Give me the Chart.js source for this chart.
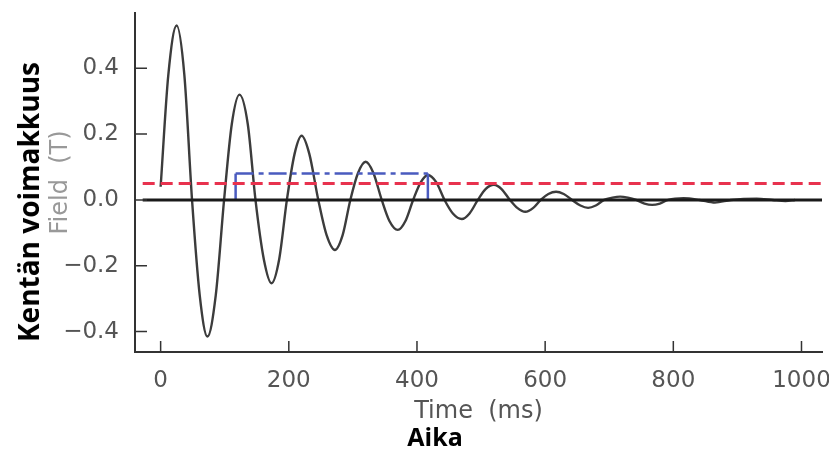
<!DOCTYPE html>
<html>
<head>
<meta charset="utf-8">
<script src="https://cdn.jsdelivr.net/npm/chart.js@4/dist/chart.umd.min.js"></script>
<style>
  body { margin: 0; background: #fff; }
  #wrap { position: relative; width: 829px; height: 453px; }
  .big { position: absolute; font-family: "Open Sans", sans-serif; font-weight: bold; color: #000; white-space: nowrap; line-height: 1; }
  #ylab { left: 28px; top: 202px; font-size: 28px; transform: translate(-50%, -50%) rotate(-90deg); }
  #xlab { left: 435px; top: 436px; font-size: 25px; transform: translate(-50%, -50%); }
</style>
</head>
<body>
<div id="wrap">
  <canvas id="chart" width="829" height="453"></canvas>
  <div class="big" id="ylab">Kentän voimakkuus</div>
  <div class="big" id="xlab">Aika</div>
</div>
<script>
/*************** Data **************************************/

// damped field signal, time in ms
var timeMs = [0, 12, 25, 37, 49, 61, 73, 86, 99, 111, 123, 136, 148, 161, 173, 185, 197,
    209, 220, 232, 246, 259, 272, 284, 296, 308, 320, 332, 345, 357, 370, 382, 394,
    406, 417, 430, 443, 456, 470, 482, 495, 507, 520, 532, 545, 557, 569, 581, 593,
    605, 617, 629, 642, 655, 667, 679, 692, 705, 717, 729, 742, 755, 767, 779, 792,
    816, 841, 865, 890, 930, 955, 975, 990];
var fieldT = [0.04, 0.38, 0.53, 0.38, 0.0, -0.29, -0.415, -0.29, 0.0, 0.23, 0.32, 0.23, 0.0, -0.18, -0.253, -0.18, 0.0,
    0.14, 0.195, 0.14, 0.0, -0.107, -0.152, -0.107, 0.0, 0.082, 0.116, 0.082, 0.0, -0.064, -0.091, -0.064, 0.0,
    0.054, 0.076, 0.054, 0.0, -0.041, -0.058, -0.041, 0.0, 0.033, 0.046, 0.033, 0.0, -0.025, -0.036, -0.025, 0.0,
    0.018, 0.025, 0.018, 0.0, -0.017, -0.024, -0.017, 0.0, 0.007, 0.01, 0.007, 0.0, -0.011, -0.015, -0.011, 0.0,
    0.005, 0.0, -0.008, 0.0, 0.004, 0.0, -0.003, 0.0];

// red threshold and zero line
var lineSpanMs = [-28, 1032];
var thresholdLevel = [0.05, 0.05];
var zeroLevel = [0, 0];

// blue window
var windowMs = [117, 117, 417, 417];
var windowLevel = [0, 0.08, 0.08, 0];

var xTickValues = [0, 200, 400, 600, 800, 1000];
var yTickValues = [-0.4, -0.2, 0.0, 0.2, 0.4];

function toPoints(xs, ys) {
    var pts = [], it;
    for (it = 0; it < xs.length; it++) {
        pts.push({x: xs[it], y: ys[it]});
    }
    return pts;
}

/*************** Inward tick marks ****************/

var innerTicks = {
    id: 'innerTicks',
    afterDraw: function(chart) {
        var ctx = chart.ctx, area = chart.chartArea;
        var xs = chart.scales.x, ys = chart.scales.y;
        ctx.save();
        ctx.strokeStyle = '#333';
        ctx.lineWidth = 1.5;
        ctx.beginPath();
        xTickValues.forEach(function(v) {
            var px = xs.getPixelForValue(v);
            ctx.moveTo(px, area.bottom);
            ctx.lineTo(px, area.bottom - 11);
        });
        yTickValues.forEach(function(v) {
            var py = ys.getPixelForValue(v);
            ctx.moveTo(area.left, py);
            ctx.lineTo(area.left + 12, py);
        });
        ctx.stroke();
        ctx.restore();
    }
};

/*************** Creating chart ****************/

var tickFont = {family: 'DejaVu Sans', size: 23};

var chart = new Chart(document.getElementById('chart'), {
    type: 'line',
    data: {
        datasets: [
            {
                data: toPoints(lineSpanMs, zeroLevel),
                borderColor: '#1a1a1a',
                borderWidth: 3,
                pointRadius: 0
            },
            {
                data: toPoints(lineSpanMs, thresholdLevel),
                borderColor: '#e8324e',
                borderWidth: 3,
                borderDash: [12, 6],
                pointRadius: 0
            },
            {
                data: toPoints(windowMs, windowLevel),
                borderColor: '#4a5bbf',
                borderWidth: 2.5,
                pointRadius: 0,
                segment: {
                    borderDash: function(c) {
                        return c.p0.parsed.x === c.p1.parsed.x ? [] : [18, 5, 5, 5];
                    }
                }
            },
            {
                data: toPoints(timeMs, fieldT),
                borderColor: '#3c3c3c',
                borderWidth: 2.4,
                pointRadius: 0,
                cubicInterpolationMode: 'monotone'
            }
        ]
    },
    options: {
        responsive: false,
        animation: false,
        devicePixelRatio: 1,
        layout: {padding: {top: 13, right: 7, left: 0, bottom: 0}},
        plugins: {legend: {display: false}, tooltip: {enabled: false}},
        scales: {
            x: {
                type: 'linear',
                min: -40,
                max: 1032,
                afterFit: function(s) { s.height = 101; s.paddingLeft = 0; s.paddingRight = 0; },
                afterBuildTicks: function(s) { s.ticks = xTickValues.map(function(v) { return {value: v}; }); },
                grid: {display: false},
                border: {display: true, color: '#333', width: 2},
                ticks: {
                    color: '#555',
                    font: tickFont,
                    padding: 7,
                    maxRotation: 0,
                    callback: function(v) { return String(v); }
                },
                title: {
                    display: true,
                    text: 'Time  (ms)',
                    color: '#555',
                    font: {family: 'DejaVu Sans', size: 24},
                    padding: {top: 0, bottom: 27}
                }
            },
            y: {
                min: -0.462,
                max: 0.568,
                afterFit: function(s) { s.width = 135; s.paddingTop = 0; s.paddingBottom = 0; },
                afterBuildTicks: function(s) { s.ticks = yTickValues.map(function(v) { return {value: v}; }); },
                grid: {display: false},
                border: {display: true, color: '#333', width: 2},
                ticks: {
                    color: '#555',
                    font: tickFont,
                    padding: 8,
                    callback: function(v) { return (v < 0 ? '\u2212' : '') + Math.abs(v).toFixed(1); }
                },
                title: {
                    display: true,
                    text: 'Field  (T)',
                    color: '#999',
                    font: {family: 'DejaVu Sans', size: 24},
                    padding: {top: 46, bottom: 0}
                }
            }
        }
    },
    plugins: [innerTicks]
});
</script>
</body>
</html>
